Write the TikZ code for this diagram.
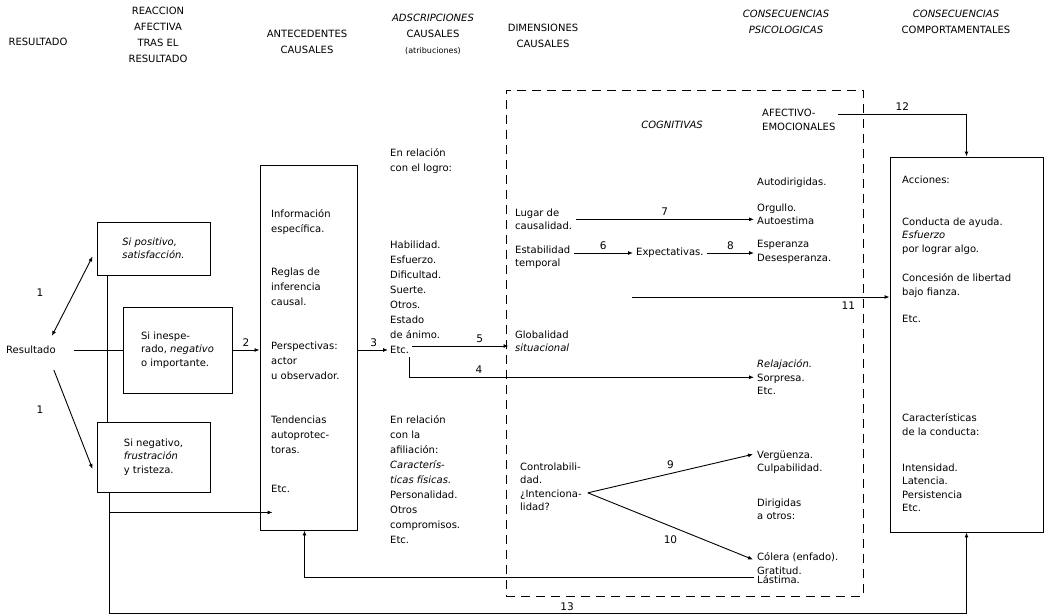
\documentclass[tikz,border=0pt]{standalone}
\usepackage{fontspec}
\setmainfont{DejaVu Sans}
\usetikzlibrary{arrows.meta,calc}

\begin{document}
\begin{tikzpicture}[x=1pt,y=-1pt,
  txt/.style={inner sep=0pt,align=left,anchor=north west,font=\fontsize{10}{13.5}\selectfont},
  txtw/.style={txt,font=\fontsize{10}{15}\selectfont},
  hdr/.style={inner sep=0pt,align=center,anchor=north,font=\fontsize{10}{16}\selectfont},
  num/.style={inner sep=1pt,font=\fontsize{10.5}{12}\selectfont},
  outbox/.style={draw,line width=0.9pt,inner sep=0pt,align=left,font=\fontsize{10}{13.5}\selectfont},
  lnk/.style={line width=0.9pt},
  arr/.style={line width=0.9pt,-{Latex[length=5pt,width=4pt]}},
  arrtwo/.style={line width=0.9pt,{Latex[length=5pt,width=4pt]}-{Latex[length=5pt,width=4pt]}}]
\useasboundingbox (0,0) rectangle (1049,615);

\node[hdr] (hRes) at (38,38) {RESULTADO};
\node[hdr] (hReac) at (158,7) {REACCION\\AFECTIVA\\TRAS EL\\RESULTADO};
\node[hdr] (hAnte) at (307,30) {ANTECEDENTES\\CAUSALES};
\node[hdr] (hAdsc) at (433,14) {\textit{ADSCRIPCIONES}\\CAUSALES\\{\fontsize{8}{10}\selectfont(atribuciones)}};
\node[hdr] (hDim) at (543,24) {DIMENSIONES\\CAUSALES};
\node[hdr] (hPsic) at (786,10) {\textit{CONSECUENCIAS}\\\textit{PSICOLOGICAS}};
\node[hdr] (hComp) at (956,10) {\textit{CONSECUENCIAS}\\COMPORTAMENTALES};

\node[txt,anchor=west] (res) at (6,350) {Resultado};
\node[outbox,minimum width=113pt,minimum height=53pt,font=\fontsize{10}{13.5}\selectfont\itshape] (posA) at (153.5,248.5) {Si positivo,\\satisfacción.};
\node[outbox,minimum width=109pt,minimum height=86pt] (negB) at (177.5,350) {Si inespe-\\rado, \textit{negativo}\\o importante.};
\node[outbox,minimum width=113pt,minimum height=70pt] (negC) at (153.5,457) {Si negativo,\\\textit{frustración}\\y tristeza.};

\draw[arrtwo] ([shift={(-4,-10)}]res.north east) -- ([shift={(-4,8)}]posA.west);
\draw[arr] ([shift={(-2,16)}]res.south east) -- ([shift={(-4,12)}]negC.west);
\node[num] (n1a) at (40,293) {1};
\node[num] (n1b) at (40,410) {1};
\draw[lnk] ([shift={(18,0)}]res.east) -- (negB.west);
\draw[lnk] ([shift={(11,0)}]posA.south west) -- ([shift={(11,0)}]negC.north west);

\node[outbox,minimum width=97pt,minimum height=365pt] (ante) at (308.5,347.5) {};
\node[txtw] (info) at (271,209.5) {Información\\específica.};
\node[txtw] (reglas) at (271,267.5) {Reglas de\\inferencia\\causal.};
\node[txtw] (persp) at (271,341.5) {Perspectivas:\\actor\\u observador.};
\node[txtw] (tend) at (271,415.5) {Tendencias\\autoprotec-\\toras.};
\node[txtw] (etc0) at (271,485.5) {Etc.};
\draw[arr] (negB.east) -- (negB.east -| ante.west) node[num,midway,above=2pt] (n2) {2};

\node[txtw] (logro) at (390,148.5) {En relación\\con el logro:};
\node[txtw] (atrLogro) at (390,240.5) {Habilidad.\\Esfuerzo.\\Dificultad.\\Suerte.\\Otros.\\Estado\\de ánimo.};
\node[txt,anchor=west] (etc1) at (390,350) {Etc.};
\node[txtw] (afil) at (390,415.5) {En relación\\con la\\afiliación:\\\textit{Caracterís-}\\\textit{ticas físicas.}\\Personalidad.\\Otros\\compromisos.\\Etc.};
\draw[arr,shorten >=2pt] (ante.east |- etc1.west) -- (etc1.west) node[num,midway,above=2pt] (n3) {3};

\node[draw,dash pattern=on 9pt off 6pt,line width=0.9pt,minimum width=357pt,minimum height=506pt,inner sep=0pt] (dbox) at (684.5,343) {};

\node[hdr,font=\fontsize{10}{13.5}\selectfont\itshape] (cogn) at (672,121) {COGNITIVAS};
\node[txt] (lugar) at (515,208.5) {Lugar de\\causalidad.};
\node[txt] (estab) at (515,245.5) {Estabilidad\\temporal};
\node[txt,anchor=west] (expect) at (636,253) {Expectativas.};
\node[txt] (glob) at (515,330.5) {Globalidad\\\textit{situacional}};
\node[txt] (ctrl) at (520,462.5) {Controlabili-\\dad.\\¿Intenciona-\\lidad?};

\node[txt] (afect) at (762,109) {AFECTIVO-\\EMOCIONALES};
\node[txt,anchor=west] (autod) at (757,183) {Autodirigidas.};
\node[txt] (orgullo) at (757,203.5) {Orgullo.\\Autoestima};
\node[txt] (esper) at (757,240.5) {Esperanza\\Desesperanza.};
\node[txt] (relaj) at (757,359.5) {\textit{Relajación.}\\Sorpresa.\\Etc.};
\node[txt] (verg) at (757,450.5) {Vergüenza.\\Culpabilidad.};
\node[txt] (dirig) at (757,498.5) {Dirigidas\\a otros:};
\node[txt] (colera) at (757,552.5) {Cólera (enfado).\\Gratitud.};
\node[txt,anchor=west] (lastima) at (757,580) {Lástima.};

\node[outbox,minimum width=153pt,minimum height=375pt] (accion) at (966.5,344.5) {};
\node[txt] (acc) at (902,175.5) {Acciones:};
\node[txt] (ayuda) at (902,217.5) {Conducta de ayuda.\\\textit{Esfuerzo}\\por lograr algo.};
\node[txt] (fianza) at (902,273.5) {Concesión de libertad\\bajo fianza.};
\node[txt] (etc2) at (902,315.5) {Etc.};
\node[txt] (caract) at (902,413.5) {Características\\de la conducta:};
\node[txt] (intens) at (902,463.5) {Intensidad.\\Latencia.\\Persistencia\\Etc.};

\draw[arr,shorten <=4pt,shorten >=3pt] (lugar.east) -- (lugar.east -| orgullo.west) node[num,midway,above=2pt] (n7) {7};
\draw[arr,shorten <=4pt,shorten >=3pt] (estab.east |- expect.west) -- (expect.west) node[num,midway,above=2pt] (n6) {6};
\draw[arr,shorten <=3pt,shorten >=3pt] (expect.east) -- (expect.east -| esper.west) node[num,midway,above=2pt] (n8) {8};
\coordinate (c11) at (632,297);
\draw[arr] (c11) -- (c11 -| accion.west) node[num,pos=.84,below=3pt] (n11) {11};
\draw[arr] ([shift={(3,-4)}]etc1.east) -- ([shift={(3,-4)}]etc1.east -| dbox.west) node[num,pos=.7,above=2pt] (n5) {5};
\draw[arr,shorten >=3pt] ([shift={(0,3)}]etc1.south east) |- (relaj.west) node[num,pos=.6,above=2pt] (n4) {4};
\draw[arr] ([shift={(6,6)}]ctrl.east) -- ([shift={(-4,-8)}]verg.west) node[num,midway,above=3pt] (n9) {9};
\draw[arr] ([shift={(6,6)}]ctrl.east) -- ([shift={(-4,-4)}]colera.west) node[num,midway,below=8pt] (n10) {10};
\coordinate (c12) at (838,114);
\draw[arr] (c12) -| (accion.north) node[num,pos=.25,above=2pt] (n12) {12};
\draw[arr] ([shift={(-3,-3)}]lastima.west) -| ([shift={(-4,0)}]ante.south);
\draw[arr] ([shift={(13,20)}]negC.south west) -- ([shift={(13,20)}]negC.south west -| ante.west);
\draw[arr] ([shift={(13,0)}]negC.south west) -- ++(0,121) -| (accion.south) node[num,pos=.267,above=1pt] (n13) {13};
\end{tikzpicture}
\end{document}
